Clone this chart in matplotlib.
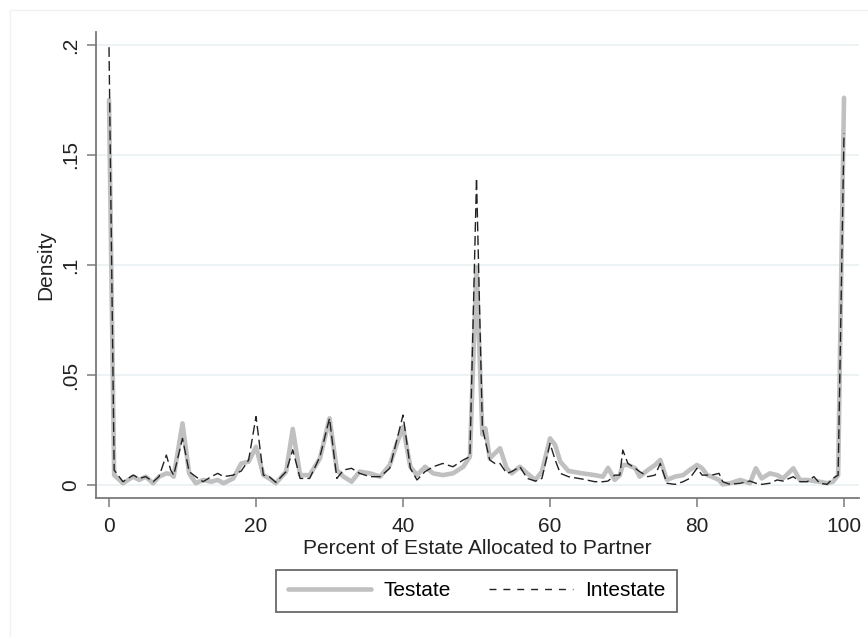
import matplotlib
matplotlib.use("Agg")
import matplotlib.pyplot as plt
from matplotlib.patches import Rectangle

plt.rcParams['font.family'] = ['Liberation Sans', 'DejaVu Sans']
plt.rcParams['font.size'] = 15

# Percent of estate allocated to partner (x grid)
pct = [0, 0.7, 1.9, 3.3, 4.1, 5.0, 6.0, 6.8, 7.8, 8.4, 8.8, 10.0, 10.9, 11.8, 12.8,
       13.9, 14.8, 15.6, 16.9, 18.0, 19.0, 20.0, 21.0, 21.8, 22.7, 24.1, 25.0, 26.0,
       27.3, 28.7, 30.0, 31.0, 31.9, 33.0, 34.1, 35.5, 36.9, 38.2, 39.1, 40.0, 41.0,
       41.9, 43.0, 44.1, 45.4, 46.8, 48.2, 49.1, 50.0, 50.8, 51.2, 51.8, 52.5, 53.2,
       54.1, 54.8, 55.9, 56.9, 58.0, 58.9, 60.0, 60.7, 61.4, 62.5, 64.4, 66.1, 67.2,
       67.9, 68.8, 69.5, 69.9, 70.6, 71.6, 72.2, 73.3, 74.3, 75.0, 75.9, 77.0, 78.1,
       79.0, 80.0, 80.7, 81.4, 82.0, 83.0, 83.5, 84.5, 85.9, 87.2, 88.0, 88.8, 89.9,
       90.9, 91.7, 93.1, 94.0, 95.0, 95.9, 96.7, 97.7, 98.5, 99.2, 100]

testate = [0.175, 0.0045, 0.0008, 0.0038, 0.0023, 0.0038, 0.0008, 0.0038, 0.0053, 0.0050,
           0.0038, 0.0280, 0.0053, 0.0008, 0.0023, 0.0015, 0.0023, 0.0008, 0.0030, 0.0098,
           0.0106, 0.0174, 0.0045, 0.0030, 0.0008, 0.0061, 0.0255, 0.0045, 0.0045, 0.0121,
           0.0303, 0.0068, 0.0038, 0.0015, 0.0061, 0.0053, 0.0038, 0.0091, 0.0182, 0.0265,
           0.0083, 0.0045, 0.0083, 0.0053, 0.0045, 0.0053, 0.0083, 0.0129, 0.0990, 0.0230,
           0.0258, 0.0121, 0.0144, 0.0167, 0.0076, 0.0053, 0.0083, 0.0053, 0.0023, 0.0061,
           0.0212, 0.0182, 0.0106, 0.0064, 0.0053, 0.0045, 0.0038, 0.0078, 0.0023, 0.0045,
           0.0091, 0.0091, 0.0076, 0.0038, 0.0068, 0.0091, 0.0114, 0.0023, 0.0038, 0.0045,
           0.0068, 0.0091, 0.0076, 0.0045, 0.0038, 0.0023, 0.0003, 0.0008, 0.0023, 0.0008,
           0.0076, 0.0030, 0.0053, 0.0045, 0.0030, 0.0076, 0.0023, 0.0023, 0.0018, 0.0015,
           0.0008, 0.0015, 0.0045, 0.176]

intestate = [0.199, 0.0068, 0.0015, 0.0045, 0.0030, 0.0038, 0.0015, 0.0038, 0.0136, 0.0068,
             0.0045, 0.0212, 0.0061, 0.0038, 0.0015, 0.0038, 0.0053, 0.0038, 0.0045, 0.0064,
             0.0114, 0.0311, 0.0045, 0.0038, 0.0012, 0.0061, 0.0160, 0.0030, 0.0030, 0.0129,
             0.0303, 0.0030, 0.0068, 0.0076, 0.0053, 0.0038, 0.0038, 0.0076, 0.0197, 0.0318,
             0.0076, 0.0023, 0.0061, 0.0083, 0.0098, 0.0083, 0.0114, 0.0129, 0.1395, 0.0260,
             0.0200, 0.0114, 0.0098, 0.0098, 0.0053, 0.0061, 0.0083, 0.0030, 0.0018, 0.0030,
             0.0189, 0.0114, 0.0053, 0.0038, 0.0027, 0.0015, 0.0015, 0.0018, 0.0045, 0.0045,
             0.0159, 0.0098, 0.0076, 0.0061, 0.0038, 0.0045, 0.0098, 0.0008, 0.0003, 0.0015,
             0.0030, 0.0076, 0.0045, 0.0045, 0.0045, 0.0053, 0.0015, 0.0003, 0.0008, 0.0018,
             0.0008, 0.0003, 0.0008, 0.0023, 0.0018, 0.0038, 0.0015, 0.0015, 0.0038, 0.0008,
             0.0003, 0.0030, 0.0045, 0.160]

yticks = [0, 0.05, 0.1, 0.15, 0.2]
ytick_labels = ['0', '.05', '.1', '.15', '.2']
xticks = [0, 20, 40, 60, 80, 100]

W, H = 868, 637
fig = plt.figure(figsize=(W / 100, H / 100), dpi=100)
fig.patches.append(Rectangle((10 / W, -0.1), 1.2, 1 - 10 / H + 0.1, transform=fig.transFigure,
                             fill=False, edgecolor='#f0f3f3', lw=1))
ax = fig.add_axes([96 / W, 1 - 498 / H, (859 - 96) / W, (498 - 32) / H])

ax.plot(pct, testate, color='#c0c0c0', lw=3.3, solid_joinstyle='round',
        solid_capstyle='round', label='Testate')
ax.plot(pct, intestate, color='#222222', lw=1.0, linestyle=(0, (7, 3)), label='Intestate')

ax.set_xlim(-1.77, 102.04)
ax.set_ylim(-0.0059, 0.2059)
ax.set_yticks(yticks)
ax.set_yticklabels(ytick_labels, rotation=90, va='center')
ax.set_xticks(xticks)
ax.yaxis.grid(True, color='#eaf1f3', lw=1.2)
ax.set_axisbelow(True)

for s in ['top', 'right']:
    ax.spines[s].set_visible(False)
for s in ['left', 'bottom']:
    ax.spines[s].set_color('#7a7a7a')
    ax.spines[s].set_linewidth(1.3)
ax.tick_params(axis='both', colors='#7a7a7a', labelcolor='#222222', length=6.5, width=1.1)
ax.tick_params(axis='x', pad=7)
ax.tick_params(axis='y', pad=5)

ax.set_xlabel('Percent of Estate Allocated to Partner', color='#222222', labelpad=2)
ax.set_ylabel('Density', color='#222222', labelpad=4)

leg = fig.legend(loc='center', bbox_to_anchor=(476.5 / W, 1 - 591 / H), ncol=2,
                 handlelength=4.0, handletextpad=0.6, columnspacing=1.85,
                 fancybox=False, edgecolor='#444444', borderpad=0.55)
leg.get_frame().set_linewidth(1.3)
leg.get_lines()[1].set_linestyle((0, (5, 5)))

fig.savefig('out.png', dpi=100)
